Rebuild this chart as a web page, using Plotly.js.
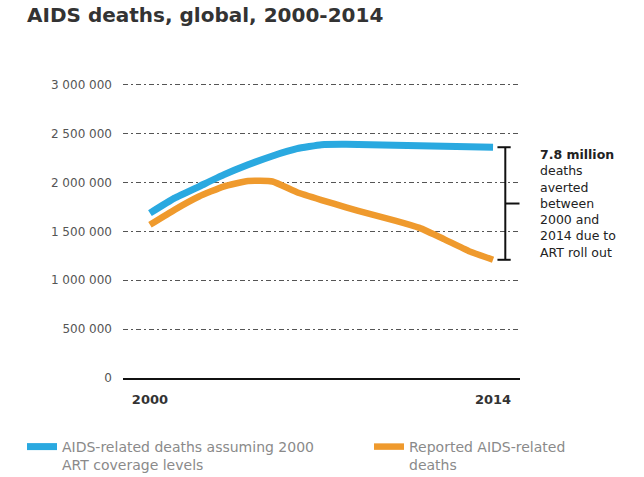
<!DOCTYPE html>
<html>
<head>
<meta charset="utf-8">
<script src="https://cdn.plot.ly/plotly-3.0.1.min.js"></script>
<style>
  html, body { margin: 0; padding: 0; background: #ffffff; }
  #chart { width: 644px; height: 477px; }
</style>
</head>
<body>
<div id="chart"></div>
<script>
// AIDS-related deaths worldwide, 2000-2014
const years = [2000, 2001, 2002, 2003, 2004, 2005, 2006, 2007, 2008, 2009, 2010, 2011, 2012, 2013, 2014];

// Deaths projected if ART coverage had stayed at 2000 levels
const deathsNoScaleUp = [1686000, 1839000, 1958000, 2077000, 2180000, 2271000, 2345000, 2386000,
                         2390000, 2385000, 2380000, 2375000, 2370000, 2365000, 2360000];

// Reported AIDS-related deaths
const deathsReported = [1567000, 1720000, 1856000, 1958000, 2015000, 2010000, 1900000, 1820000,
                        1745000, 1675000, 1610000, 1535000, 1420000, 1300000, 1209000];

const seriesNames = ['AIDS-related deaths assuming 2000<br>ART coverage levels',
                     'Reported AIDS-related<br>deaths'];

const yTickValues = [0, 500000, 1000000, 1500000, 2000000, 2500000, 3000000];
const yTickLabels = ['0', '500 000', '1 000 000', '1 500 000', '2 000 000', '2 500 000', '3 000 000'];
const xTickValues = [2000, 2014];
const xTickLabels = ['2000', '2014'];

const noteText = '<b>7.8 million</b><br>deaths<br>averted<br>between<br>2000 and<br>2014 due to<br>ART roll out';

const BLUE = '#2aa9e0';
const ORANGE = '#ef9a2d';
const X_RANGE = [1998.9, 2015.1];

const traces = [
  {
    x: years, y: deathsNoScaleUp, name: seriesNames[0],
    type: 'scatter', mode: 'lines', legend: 'legend',
    line: { color: BLUE, width: 7, shape: 'spline', smoothing: 0.4 }
  },
  {
    x: years, y: deathsReported, name: seriesNames[1],
    type: 'scatter', mode: 'lines', legend: 'legend2',
    line: { color: ORANGE, width: 6.5, shape: 'spline', smoothing: 0.4 }
  }
];

// Bracket spanning the gap between the two series in the final year
const lastIdx = years.length - 1;
const lastYear = years[lastIdx];
const topVal = deathsNoScaleUp[lastIdx];
const botVal = deathsReported[lastIdx];
const midVal = (topVal + botVal) / 2;
const barX = lastYear + 0.5;
const bracketLine = { color: '#111111', width: 2 };

const shapes = [
  { type: 'line', xref: 'x', yref: 'y', x0: barX, x1: barX, y0: botVal, y1: topVal, line: bracketLine },
  { type: 'line', xref: 'x', yref: 'y', x0: lastYear + 0.18, x1: lastYear + 0.72, y0: topVal, y1: topVal, line: bracketLine },
  { type: 'line', xref: 'x', yref: 'y', x0: lastYear + 0.18, x1: lastYear + 0.72, y0: botVal, y1: botVal, line: bracketLine },
  { type: 'line', xref: 'x', yref: 'y', x0: barX, x1: lastYear + 1.08, y0: midVal, y1: midVal, line: bracketLine }
];

// The note sits to the right of the plot area, so place it in paper units
const noteX = (lastYear + 1.84 - X_RANGE[0]) / (X_RANGE[1] - X_RANGE[0]);

// Shared look for the two legend blocks under the chart
const legendStyle = {
  xref: 'container', yref: 'container',
  xanchor: 'left',
  y: 1 - 431 / 477, yanchor: 'top',
  valign: 'top',
  font: { family: 'DejaVu Sans, sans-serif', size: 14, color: '#8a8a8a' },
  bgcolor: 'rgba(0,0,0,0)'
};

const layout = {
  width: 644,
  height: 477,
  paper_bgcolor: '#ffffff',
  plot_bgcolor: '#ffffff',
  margin: { l: 123, r: 124, t: 70, b: 99, autoexpand: false },
  showlegend: true,
  title: {
    text: '<b>AIDS deaths, global, 2000-2014</b>',
    x: 27 / 644, xref: 'container', xanchor: 'left',
    y: 1 - 15 / 477, yref: 'container', yanchor: 'middle',
    font: { family: 'DejaVu Sans, sans-serif', size: 20, color: '#333333' }
  },
  xaxis: {
    range: X_RANGE,
    tickvals: xTickValues,
    ticktext: xTickLabels,
    ticks: '',
    showgrid: false,
    zeroline: false,
    showline: true,
    linecolor: '#111111',
    linewidth: 2,
    ticklabelstandoff: 8,
    tickfont: { family: 'DejaVu Sans, sans-serif', size: 13, color: '#333333', weight: 'bold' },
    fixedrange: true
  },
  yaxis: {
    range: [0, 3150000],
    tickvals: yTickValues,
    ticktext: yTickLabels,
    ticks: '',
    showgrid: true,
    gridcolor: '#555555',
    gridwidth: 1,
    griddash: '5px,3px,2px,3px',
    zeroline: false,
    showline: false,
    ticklabelstandoff: 10,
    tickfont: { family: 'DejaVu Sans, sans-serif', size: 12, color: '#555555' },
    fixedrange: true
  },
  legend: Object.assign({}, legendStyle, { x: 22 / 644 }),
  legend2: Object.assign({}, legendStyle, { x: 369 / 644 }),
  shapes: shapes,
  annotations: [
    {
      xref: 'paper', yref: 'y',
      x: noteX, y: midVal,
      xanchor: 'left', yanchor: 'middle',
      align: 'left',
      showarrow: false,
      text: noteText,
      font: { family: 'DejaVu Sans, sans-serif', size: 12.5, color: '#222222' }
    }
  ]
};

Plotly.newPlot('chart', traces, layout, { displayModeBar: false, staticPlot: true });
</script>
</body>
</html>
